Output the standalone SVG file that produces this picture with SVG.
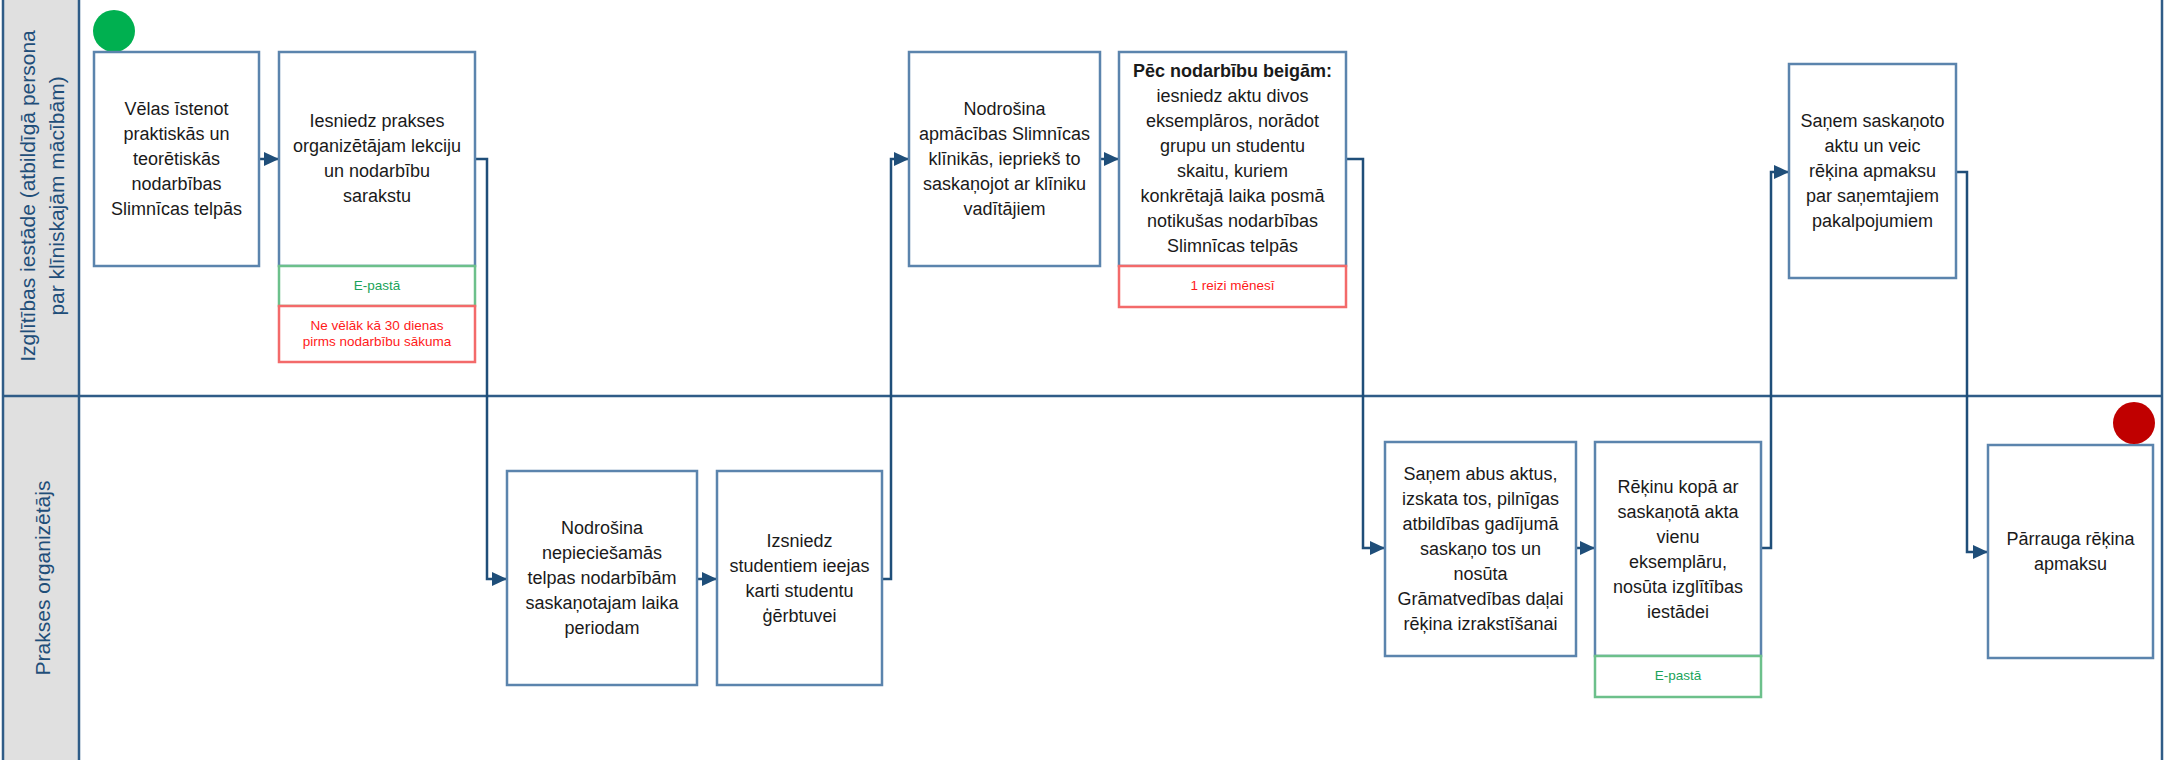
<svg xmlns="http://www.w3.org/2000/svg" width="2166" height="760" viewBox="0 0 2166 760">
<style>
.lane{fill:#e0e0e0;stroke:none}
.ln{stroke:#2f5c87;stroke-width:2.5;fill:none}
.lt{font-family:"Liberation Sans",Arial,sans-serif;font-size:21px;fill:#1f4e79;text-anchor:middle}
.box{fill:#fff;stroke:#5b84ad;stroke-width:2.5}
.gb{fill:#fff;stroke:#6cc08b;stroke-width:2.5}
.rb{fill:#fff;stroke:#f36a6a;stroke-width:2.5}
.t{font-family:"Liberation Sans",Arial,sans-serif;font-size:18px;fill:#1a1a1a;text-anchor:middle}
.b{font-weight:bold}
.sg{font-family:"Liberation Sans",Arial,sans-serif;font-size:13.5px;fill:#1aa35a;text-anchor:middle}
.sr{font-family:"Liberation Sans",Arial,sans-serif;font-size:13.5px;fill:#ff1a1a;text-anchor:middle}
.c{stroke:#1f4e79;stroke-width:2.5;fill:none;marker-end:url(#ah)}
</style>
<defs>
<marker id="ah" markerWidth="15" markerHeight="14" refX="15" refY="7" orient="auto" markerUnits="userSpaceOnUse" viewBox="0 0 15 14">
<path d="M0,0 L15,7 L0,14 Z" fill="#1f4e79"/>
</marker>
</defs>
<rect width="2166" height="760" fill="#fff"/>
<g id="pool">
<rect class="lane" x="3" y="0" width="76" height="760"/>
<line class="ln" x1="3" y1="0" x2="3" y2="760"/>
<line class="ln" x1="79" y1="0" x2="79" y2="760"/>
<line class="ln" x1="2162" y1="0" x2="2162" y2="760"/>
<line class="ln" x1="3" y1="396" x2="2162" y2="396"/>
</g>
<g id="lane1">
<text class="lt" transform="translate(35,196) rotate(-90)">Izglītības iestāde (atbildīgā persona</text>
<text class="lt" transform="translate(64,196) rotate(-90)">par klīniskajām mācībām)</text>
</g>
<g id="lane2">
<text class="lt" transform="translate(50,578) rotate(-90)">Prakses organizētājs</text>
</g>
<g id="connectors">
<path class="c" d="M259,159 L279,159"/>
<path class="c" d="M475,159 L487,159 L487,579 L507,579"/>
<path class="c" d="M697,579 L717,579"/>
<path class="c" d="M882,579 L891,579 L891,159 L909,159"/>
<path class="c" d="M1100,159 L1119,159"/>
<path class="c" d="M1346,159 L1363,159 L1363,548 L1385,548"/>
<path class="c" d="M1576,548 L1595,548"/>
<path class="c" d="M1761,548 L1771,548 L1771,172 L1789,172"/>
<path class="c" d="M1956,172 L1967,172 L1967,552 L1988,552"/>
</g>
<g id="start"><circle cx="114" cy="31" r="21" fill="#00b050"/></g>
<g id="n1">
<rect class="box" x="94" y="52" width="165" height="214"/>
<text class="t"><tspan x="176.5" y="115">Vēlas īstenot</tspan><tspan x="176.5" y="140">praktiskās un</tspan><tspan x="176.5" y="165">teorētiskās</tspan><tspan x="176.5" y="190">nodarbības</tspan><tspan x="176.5" y="215">Slimnīcas telpās</tspan></text>
</g>
<g id="n2">
<rect class="box" x="279" y="52" width="196" height="214"/>
<text class="t"><tspan x="377" y="127">Iesniedz prakses</tspan><tspan x="377" y="152">organizētājam lekciju</tspan><tspan x="377" y="177">un nodarbību</tspan><tspan x="377" y="202">sarakstu</tspan></text>
<rect class="gb" x="279" y="266" width="196" height="40"/>
<text class="sg" x="377" y="290">E-pastā</text>
<rect class="rb" x="279" y="306" width="196" height="56"/>
<text class="sr"><tspan x="377" y="330">Ne vēlāk kā 30 dienas</tspan><tspan x="377" y="346">pirms nodarbību sākuma</tspan></text>
</g>
<g id="n3">
<rect class="box" x="507" y="471" width="190" height="214"/>
<text class="t"><tspan x="602" y="534">Nodrošina</tspan><tspan x="602" y="559">nepieciešamās</tspan><tspan x="602" y="584">telpas nodarbībām</tspan><tspan x="602" y="609">saskaņotajam laika</tspan><tspan x="602" y="634">periodam</tspan></text>
</g>
<g id="n4">
<rect class="box" x="717" y="471" width="165" height="214"/>
<text class="t"><tspan x="799.5" y="547">Izsniedz</tspan><tspan x="799.5" y="572">studentiem ieejas</tspan><tspan x="799.5" y="597">karti studentu</tspan><tspan x="799.5" y="622">ģērbtuvei</tspan></text>
</g>
<g id="n5">
<rect class="box" x="909" y="52" width="191" height="214"/>
<text class="t"><tspan x="1004.5" y="115">Nodrošina</tspan><tspan x="1004.5" y="140">apmācības Slimnīcas</tspan><tspan x="1004.5" y="165">klīnikās, iepriekš to</tspan><tspan x="1004.5" y="190">saskaņojot ar klīniku</tspan><tspan x="1004.5" y="215">vadītājiem</tspan></text>
</g>
<g id="n6">
<rect class="box" x="1119" y="52" width="227" height="214"/>
<text class="t"><tspan class="b" x="1232.5" y="77">Pēc nodarbību beigām:</tspan><tspan x="1232.5" y="102">iesniedz aktu divos</tspan><tspan x="1232.5" y="127">eksemplāros, norādot</tspan><tspan x="1232.5" y="152">grupu un studentu</tspan><tspan x="1232.5" y="177">skaitu, kuriem</tspan><tspan x="1232.5" y="202">konkrētajā laika posmā</tspan><tspan x="1232.5" y="227">notikušas nodarbības</tspan><tspan x="1232.5" y="252">Slimnīcas telpās</tspan></text>
<rect class="rb" x="1119" y="266" width="227" height="41"/>
<text class="sr" x="1232.5" y="290">1 reizi mēnesī</text>
</g>
<g id="n7">
<rect class="box" x="1385" y="442" width="191" height="214"/>
<text class="t"><tspan x="1480.5" y="480">Saņem abus aktus,</tspan><tspan x="1480.5" y="505">izskata tos, pilnīgas</tspan><tspan x="1480.5" y="530">atbildības gadījumā</tspan><tspan x="1480.5" y="555">saskaņo tos un</tspan><tspan x="1480.5" y="580">nosūta</tspan><tspan x="1480.5" y="605">Grāmatvedības daļai</tspan><tspan x="1480.5" y="630">rēķina izrakstīšanai</tspan></text>
</g>
<g id="n8">
<rect class="box" x="1595" y="442" width="166" height="214"/>
<text class="t"><tspan x="1678" y="493">Rēķinu kopā ar</tspan><tspan x="1678" y="518">saskaņotā akta</tspan><tspan x="1678" y="543">vienu</tspan><tspan x="1678" y="568">eksemplāru,</tspan><tspan x="1678" y="593">nosūta izglītības</tspan><tspan x="1678" y="618">iestādei</tspan></text>
<rect class="gb" x="1595" y="656" width="166" height="41"/>
<text class="sg" x="1678" y="680">E-pastā</text>
</g>
<g id="n9">
<rect class="box" x="1789" y="64" width="167" height="214"/>
<text class="t"><tspan x="1872.5" y="127">Saņem saskaņoto</tspan><tspan x="1872.5" y="152">aktu un veic</tspan><tspan x="1872.5" y="177">rēķina apmaksu</tspan><tspan x="1872.5" y="202">par saņemtajiem</tspan><tspan x="1872.5" y="227">pakalpojumiem</tspan></text>
</g>
<g id="n10">
<rect class="box" x="1988" y="445" width="165" height="213"/>
<text class="t"><tspan x="2070.5" y="545">Pārrauga rēķina</tspan><tspan x="2070.5" y="570">apmaksu</tspan></text>
</g>
<g id="end"><circle cx="2134" cy="423" r="21" fill="#c00000"/></g>
</svg>
